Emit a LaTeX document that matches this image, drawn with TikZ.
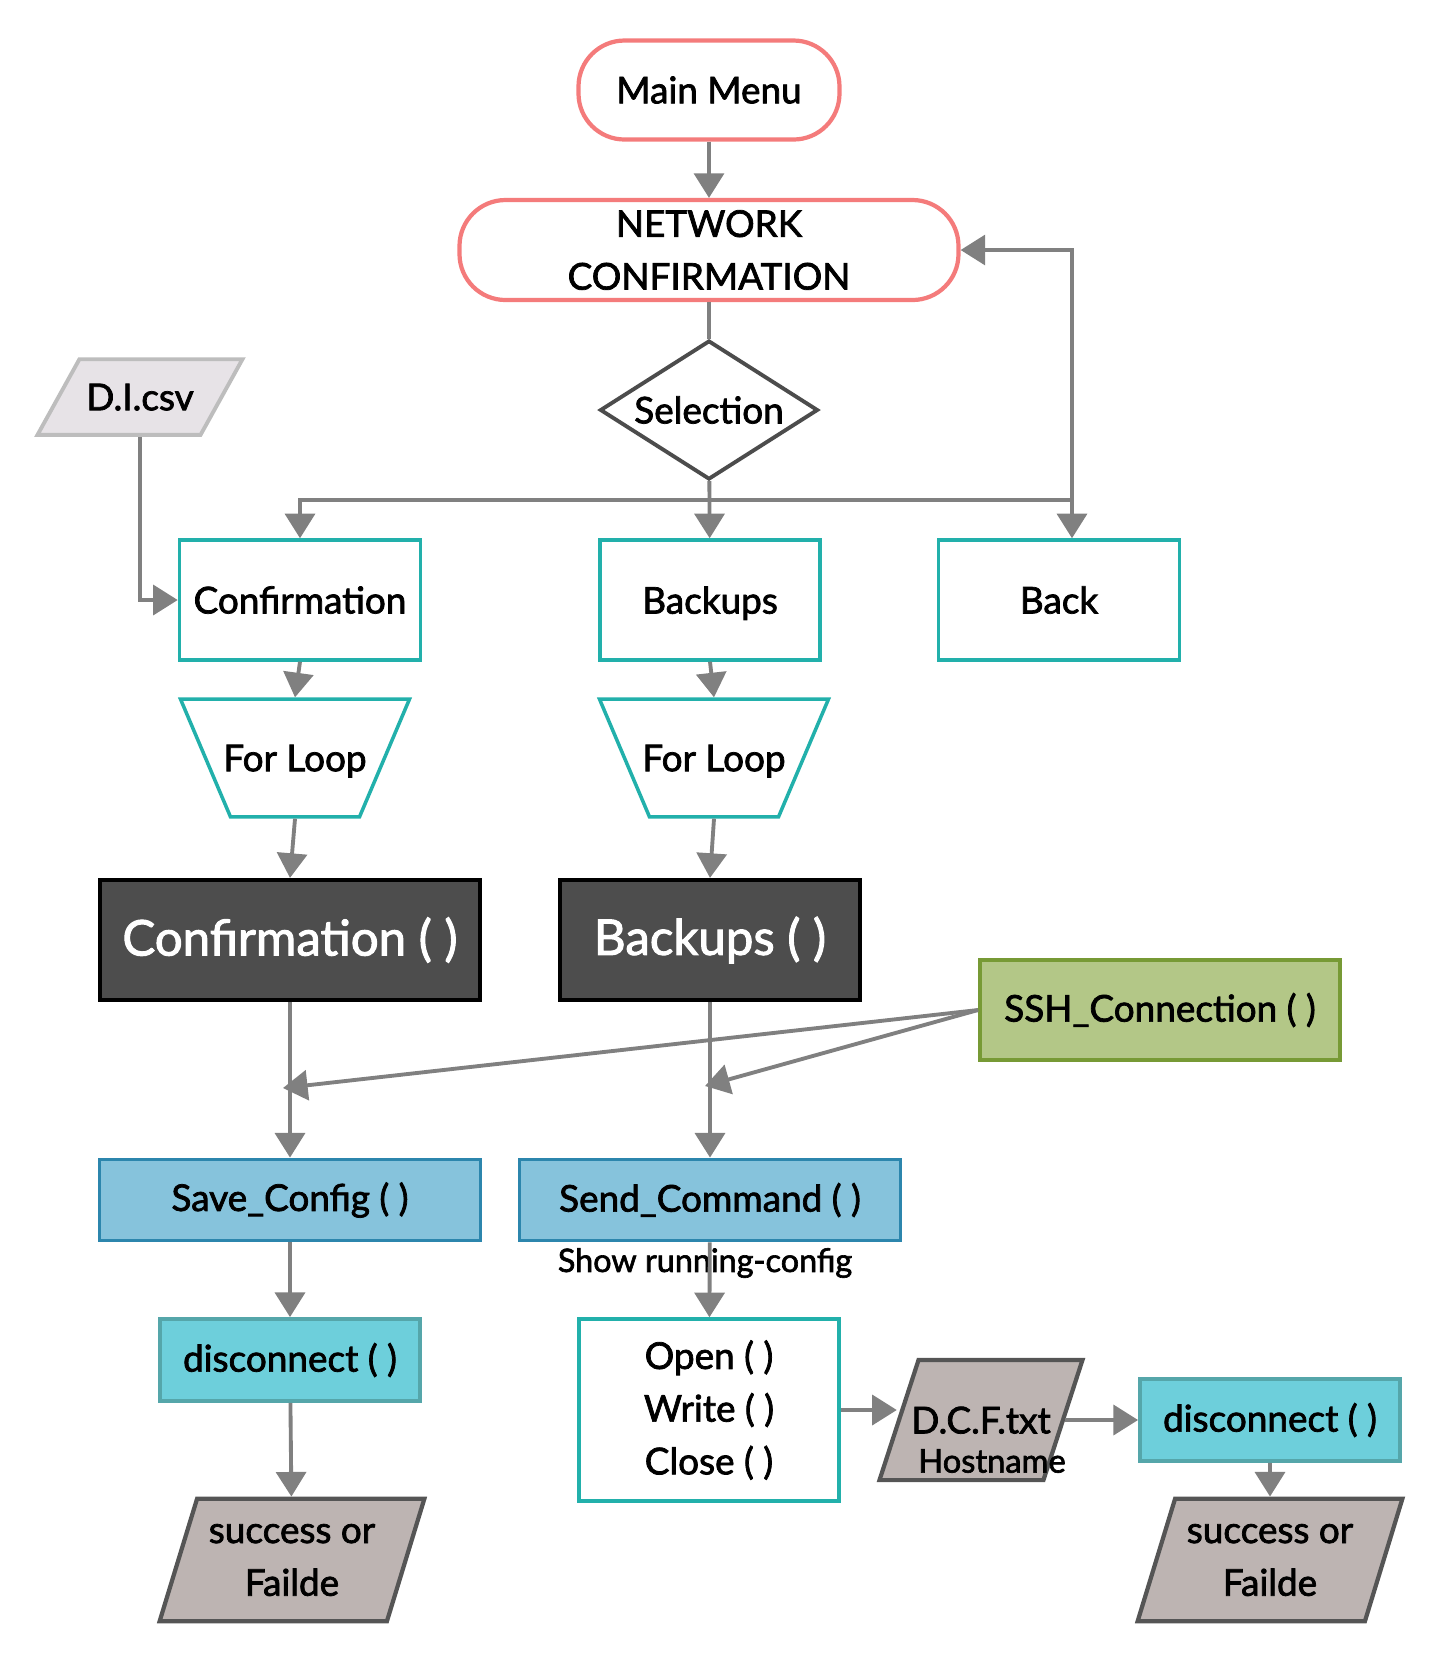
\documentclass[tikz,border=0pt]{standalone}
\usepackage{fontspec}
\setmainfont{Lato}[FakeBold=2]
\usepackage{tikz}
\usetikzlibrary{positioning,arrows.meta,shapes.geometric}
\definecolor{termred}{HTML}{F47B7B}
\definecolor{tealline}{HTML}{22B0AB}
\definecolor{darkfill}{HTML}{4D4D4D}
\definecolor{sshfill}{HTML}{B3C787}
\definecolor{sshline}{HTML}{779A35}
\definecolor{callfill}{HTML}{86C3DC}
\definecolor{callline}{HTML}{2C86AD}
\definecolor{discfill}{HTML}{6DCFDB}
\definecolor{discline}{HTML}{55A6AA}
\definecolor{resfill}{HTML}{BDB4B2}
\definecolor{resline}{HTML}{555555}
\definecolor{csvfill}{HTML}{E7E3E7}
\definecolor{csvline}{HTML}{BDBDBD}
\definecolor{flowgray}{HTML}{808080}
\tikzset{
  flowarrow/.style={-{Triangle[length=7pt, width=8.5pt]}, line width=1.1pt, draw=flowgray},
  flowline/.style={line width=1.1pt, draw=flowgray},
  termbox/.style={draw=termred, line width=1.2pt, rounded corners=4.6mm, fill=white, align=center, inner ysep=1pt},
  decision/.style={diamond, draw=black!70, line width=1.1pt, aspect=1.57, inner sep=0pt, minimum width=21.8mm, minimum height=13.9mm},
  choicebox/.style={draw=tealline, line width=1pt, fill=white, minimum width=24.1mm, minimum height=12mm, align=center},
  loopbox/.style={trapezium, trapezium left angle=113, trapezium right angle=113, trapezium stretches body, draw=tealline, line width=1pt, fill=white, minimum width=22.9mm, text depth=0pt, inner ysep=13pt, inner xsep=-4.6pt},
  funcbox/.style={draw=black, line width=1.2pt, fill=darkfill, text=white, minimum height=12mm, font=\fontsize{14}{17}\selectfont},
  sshbox/.style={draw=sshline, line width=1.1pt, fill=sshfill, minimum width=36mm, minimum height=10mm},
  callbox/.style={draw=callline, line width=1.1pt, fill=callfill, minimum width=38.1mm, minimum height=8.1mm},
  discbox/.style={draw=discline, line width=1.1pt, fill=discfill, minimum width=26mm, minimum height=8.2mm},
  iobox/.style={trapezium, trapezium left angle=61, trapezium right angle=119, trapezium stretches body, draw=csvline, line width=1.1pt, fill=csvfill, minimum width=20.5mm, text depth=0pt, inner ysep=7pt, inner xsep=1.7pt},
  resultbox/.style={trapezium, trapezium left angle=73, trapezium right angle=107, trapezium stretches body, draw=resline, line width=1.2pt, fill=resfill, minimum width=26.4mm, align=center, inner ysep=7.2pt},
  filebox/.style={resultbox, trapezium left angle=72, trapezium right angle=108, minimum width=20.3mm, text depth=0pt, inner ysep=13.3pt, inner xsep=-2.1pt},
  notelabel/.style={inner sep=0pt, font=\fontsize{9.2}{11}\selectfont}
}
\begin{document}
\begin{tikzpicture}[x=0.1mm, y=-0.1mm, >=Triangle, every node/.style={font=\fontsize{10.5}{15}\selectfont}]
  \useasboundingbox (0,0) rectangle (1440,1660);
  \node[termbox, minimum width=26.1mm, minimum height=9.9mm] (menu) at (709,90) {Main Menu};
  \node[termbox, minimum width=49.9mm, minimum height=10mm] (netconf) at (709,250) {NETWORK\\CONFIRMATION};
  \node[decision] (sel) at (709,410) {Selection};
  \node[iobox] (dicsv) at (140,397) {D.I.csv};
  \node[choicebox] (conf) at (300,600) {Confirmation};
  \node[choicebox, minimum width=22mm, text depth=0pt] (bkp) at (710,600) {Backups};
  \node[choicebox] (back) at (1059,600) {Back};
  \node[loopbox] (loop1) at (295,758) {For Loop};
  \node[loopbox] (loop2) at (714,758) {For Loop};
  \node[funcbox, minimum width=38mm] (confn) at (290,940) {Confirmation ( )};
  \node[funcbox, minimum width=30mm] (bkpfn) at (710,940) {Backups ( )};
  \node[sshbox] (ssh) at (1160,1010) {SSH\_Connection ( )};
  \node[callbox] (save) at (290,1200) {Save\_Config ( )};
  \node[callbox] (send) at (710,1200) {Send\_Command ( )};
  \node[discbox] (disc1) at (290,1360) {disconnect ( )};
  \node[choicebox, minimum width=26mm, minimum height=18.2mm] (files) at (709,1410) {Open ( )\\Write ( )\\Close ( )};
  \node[filebox] (dcf) at (981,1420) {D.C.F.txt};
  \node[discbox] (disc2) at (1270,1420) {disconnect ( )};
  \node[resultbox] (res1) at (292,1560) {success or\\Failde};
  \node[resultbox] (res2) at (1270,1560) {success or\\Failde};
  \node[notelabel] (runcfg) at (705,1263) {Show running-config};
  \node[notelabel, font=\fontsize{9.3}{11}\selectfont] (hostlbl) at (992,1461) {Hostname};
  \coordinate (split) at (709,500);
  \coordinate (turn) at (1072,500);
  \coordinate (hit1) at (283,1088);
  \coordinate (hit2) at (705,1086);
  \draw[flowarrow] (menu) -- (netconf);
  \draw[flowline] (netconf) -- (sel);
  \draw[flowarrow] (sel) -- (bkp);
  \draw[flowarrow] (split) -| (conf.north);
  \draw[flowline] (split) -- (turn);
  \draw[flowarrow] (turn) -- (turn |- back.north);
  \draw[flowarrow] (turn) |- (netconf.east);
  \draw[flowarrow] (dicsv.south) |- (conf.west);
  \draw[flowarrow] (conf.south) -- (loop1.north);
  \draw[flowarrow] (loop1.south) -- (confn.north);
  \draw[flowarrow] (bkp.south) -- (loop2.north);
  \draw[flowarrow] (loop2.south) -- (bkpfn.north);
  \draw[flowarrow] (confn) -- (save);
  \draw[flowarrow] (bkpfn) -- (send);
  \draw[flowarrow] (ssh.west) -- (hit1);
  \draw[flowarrow] (ssh.west) -- (hit2);
  \draw[flowarrow] (save) -- (disc1);
  \draw[flowarrow] (disc1) -- (res1);
  \draw[flowarrow] (send) -- (files);
  \draw[flowarrow] (files.east) -- (files.east -| dcf.west);
  \draw[flowarrow] (dcf.east) -- (disc2.west);
  \draw[flowarrow] (disc2) -- (res2);
\end{tikzpicture}
\end{document}
